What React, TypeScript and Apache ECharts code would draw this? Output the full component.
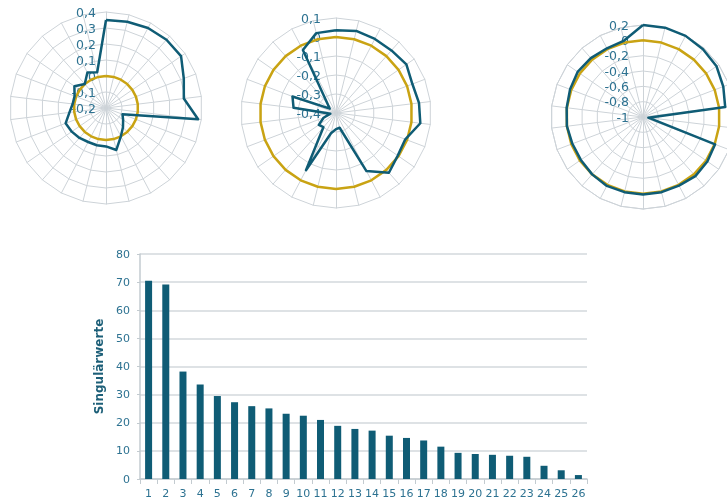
import { useEffect, useRef } from "react";
import * as echarts from "echarts";

// Singular value spectrum (bar chart)
const componentLabels = [
  "1", "2", "3", "4", "5", "6", "7", "8", "9", "10", "11", "12", "13",
  "14", "15", "16", "17", "18", "19", "20", "21", "22", "23", "24", "25", "26",
];
const singularValues = [
  70.5, 69.2, 38.2, 33.6, 29.5, 27.3, 25.9, 25.1, 23.2, 22.5, 21.0, 18.9, 17.8,
  17.2, 15.4, 14.6, 13.7, 11.5, 9.3, 8.9, 8.6, 8.3, 7.9, 4.7, 3.1, 1.4,
];

// Singular vectors, listed clockwise starting at the top spoke
const vector1 = [
  0.35, 0.355, 0.365, 0.37, 0.37, 0.32, 0.29, 0.38, -0.09, -0.07, -0.04, 0.0, 0.07,
  0.04, 0.04, 0.04, 0.05, 0.06, 0.07, 0.03, 0.01, 0.01, 0.04, 0.0, 0.05, 0.03,
];
const vector2 = [
  0.035, 0.045, 0.04, 0.04, 0.05, 0.03, 0.04, 0.047, -0.01, -0.005, 0.02, -0.055, -0.32,
  -0.315, -0.29, -0.06, -0.3, -0.29, -0.33, -0.37, -0.175, -0.155, -0.36, -0.33, -0.025, 0.033,
];
const vector3 = [
  0.2, 0.2, 0.195, 0.18, 0.165, 0.12, 0.08, -0.93, 0.006, 0.02, 0.03, 0.01, 0.01,
  0.01, 0.01, 0.015, 0.0, -0.015, -0.015, 0.0, 0.003, 0.017, 0.036, 0.027, 0.012, 0.027,
];
// Zero reference ring
const zeroLine = [
  0, 0, 0, 0, 0, 0, 0, 0, 0, 0, 0, 0, 0,
  0, 0, 0, 0, 0, 0, 0, 0, 0, 0, 0, 0, 0,
];

// Radial scales of the three radar plots
const radarMin = [-0.2, -0.4, -1];
const radarMax = [0.4, 0.1, 0.2];
const radarSplits = [6, 5, 6];
const vectors = [vector1, vector2, vector3];

const TEAL = "#0f5c75";
const GOLD = "#c9a313";
const LABEL = "#2d7291";
const GRID = "#cdd3d8";
const FONT = "DejaVu Sans, Verdana, sans-serif";

// ECharts places radar indicators counter-clockwise; flip to clockwise order
const clockwise = (arr: number[]) => [arr[0], ...arr.slice(1).reverse()];

const decimalComma = (v: number) => {
  const r = Math.round(v * 10) / 10;
  return String(r).replace(".", ",");
};

export default function App() {
  const ref = useRef<HTMLDivElement>(null);

  useEffect(() => {
    if (!ref.current) return;
    const chart = echarts.init(ref.current, undefined, { renderer: "svg" });

    const layout = [
      { center: [106, 108], radius: 96, labelMargin: 10 },
      { center: [336, 113], radius: 95, labelMargin: 15 },
      { center: [643, 117], radius: 92, labelMargin: 14 },
    ];

    const radar = layout.map((l, i) => ({
      center: l.center,
      radius: l.radius,
      startAngle: 90,
      shape: "polygon",
      splitNumber: radarSplits[i],
      axisName: { show: false },
      splitArea: { show: false },
      splitLine: { lineStyle: { color: GRID, width: 1 } },
      axisLine: { lineStyle: { color: GRID, width: 1 } },
      axisTick: { show: false },
      axisLabel: {
        show: false,
        color: LABEL,
        fontSize: 12.5,
        fontFamily: FONT,
        margin: l.labelMargin,
        formatter: decimalComma,
      },
      indicator: vectors[i].map((_, k) => ({
        name: "",
        min: radarMin[i],
        max: radarMax[i],
        ...(k === 0 ? { axisLabel: { show: true } } : {}),
      })),
    }));

    const radarSeries = vectors.map((vec, i) => ({
      type: "radar",
      radarIndex: i,
      symbol: "none",
      silent: true,
      data: [
        { value: clockwise(zeroLine), lineStyle: { color: GOLD, width: 2.5 } },
        { value: clockwise(vec), lineStyle: { color: TEAL, width: 2.5 } },
      ],
    }));

    chart.setOption({
      animation: false,
      textStyle: { fontFamily: FONT },
      radar,
      grid: { left: 140, right: 140, top: 254, bottom: 23 },
      xAxis: {
        type: "category",
        data: componentLabels,
        axisLine: { lineStyle: { color: "#c3cbd0", width: 1.5 } },
        axisTick: { show: true, length: 5, lineStyle: { color: "#c3cbd0" } },
        axisLabel: { color: LABEL, fontSize: 11, margin: 9, interval: 0, fontFamily: FONT },
      },
      yAxis: {
        type: "value",
        min: 0,
        max: 80,
        interval: 10,
        axisLine: { show: true, lineStyle: { color: "#c3cbd0", width: 1.5 } },
        axisTick: { show: true, length: 3, lineStyle: { color: "#c3cbd0" } },
        splitLine: { lineStyle: { color: "#d3d9dd", width: 1.5 } },
        axisLabel: { color: LABEL, fontSize: 11, margin: 10, fontFamily: FONT },
        name: "Singulärwerte",
        nameLocation: "middle",
        nameGap: 27,
        nameTextStyle: { fontWeight: "bold", color: "#1d5f78", fontSize: 12, fontFamily: FONT },
      },
      series: [
        ...radarSeries,
        {
          type: "bar",
          data: singularValues,
          barWidth: 7,
          itemStyle: { color: TEAL },
          silent: true,
        },
      ],
    });

    return () => chart.dispose();
  }, []);

  return (
    <div
      ref={ref}
      style={{ position: "fixed", left: 0, top: 0, width: 727, height: 502 }}
    />
  );
}
